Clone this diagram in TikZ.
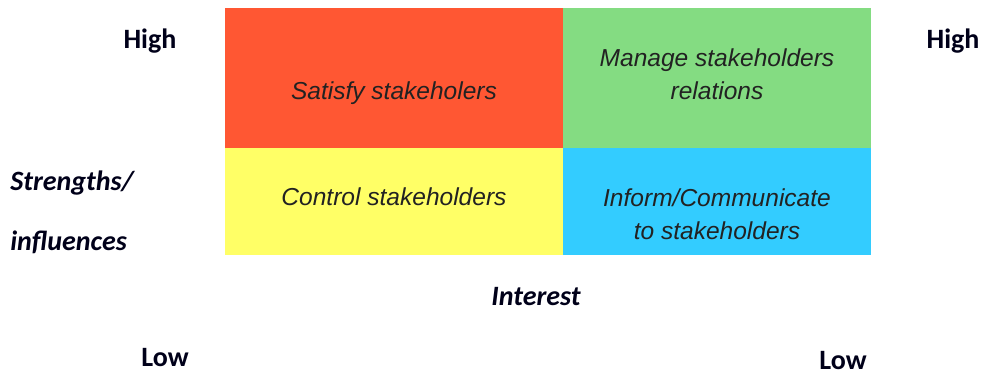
\documentclass[tikz,border=0pt]{standalone}
\usepackage{fontspec}
\setmainfont{Carlito}
\newfontfamily\cellfont{Liberation Sans}
\definecolor{cred}{HTML}{FF5733}
\definecolor{cgreen}{HTML}{84DC82}
\definecolor{cyellow}{HTML}{FFFF66}
\definecolor{cblue}{HTML}{33CCFF}
\definecolor{ctext}{HTML}{222222}
\tikzset{
  cell/.style={inner sep=0pt, outer sep=0pt},
  celltext/.style={font=\cellfont\itshape\fontsize{18.4}{24.75}\selectfont, text=ctext, align=center, inner sep=0pt},
  axislabel/.style={font=\bfseries\fontsize{21}{24}\selectfont, text=black!90!blue, inner sep=0pt},
  axisit/.style={font=\bfseries\itshape\fontsize{21}{24}\selectfont, text=black!90!blue, inner sep=0pt}
}
\begin{document}
\begin{tikzpicture}[x=0.75pt,y=-0.75pt]
\useasboundingbox (0,0) rectangle (990,375);
\fill[cred] (225,8) rectangle (563,148);
\fill[cgreen] (563,8) rectangle (871,148);
\fill[cyellow] (225,148) rectangle (563,255);
\fill[cblue] (563,148) rectangle (871,255);
\node[celltext, anchor=base] (sat) at (394,99) {Satisfy stakeholers};
\node[celltext, anchor=center] (man) at (717,74) {Manage stakeholders\\relations};
\node[celltext, anchor=center] (inf) at (717,214) {Inform/Communicate\\to stakeholders};
\node[celltext, anchor=base] (con) at (394,205) {Control stakeholders};
\node[axislabel, anchor=base] (highl) at (150,48) {High};
\node[axislabel, anchor=base] (highr) at (953,48) {High};
\node[axisit, anchor=base west] (str) at (10,190) {Strengths/};
\node[axisit, anchor=base west] (infl) at (10,250) {influences};
\node[axisit, anchor=base] (int) at (536,305) {Interest};
\node[axislabel, anchor=base] (lowl) at (165,366) {Low};
\node[axislabel, anchor=base] (lowr) at (843,369) {Low};
\end{tikzpicture}
\end{document}
